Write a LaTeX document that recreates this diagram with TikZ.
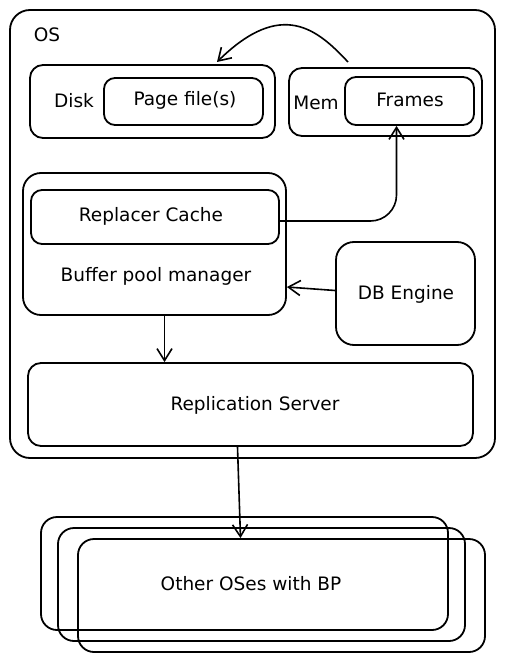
\documentclass[tikz,border=0pt]{standalone}
\usepackage{fontspec}
\setmainfont{DejaVu Sans}
\usetikzlibrary{arrows.meta,calc}
\begin{document}
\begin{tikzpicture}[x=1pt,y=-1pt,
  box/.style={draw, line width=1.8pt, rounded corners=13pt, inner sep=0pt},
  lbl/.style={font=\fontsize{18.5}{21}\selectfont, inner sep=0pt},
  arr/.style={line width=1.6pt, -{Straight Barb[length=12pt,width=15pt,line width=1.6pt]}}]
\useasboundingbox (0,0) rectangle (505,663);
% OS container
\node[box, rounded corners=20pt, minimum width=485pt, minimum height=448pt] (os) at (252.5,234) {};
\node[lbl] (oslbl) at (47,35) {OS};
% Disk
\node[box, minimum width=245pt, minimum height=73pt] (disk) at (152.5,101.5) {};
\node[lbl] (disklbl) at (74,101) {Disk};
\node[box, rounded corners=11pt, minimum width=159pt, minimum height=47pt] (page) at (183.5,101.5) {};
\node[lbl] (pagelbl) at (185,100) {Page file(s)};
% Mem
\node[box, minimum width=193pt, minimum height=68pt] (mem) at (385.5,102) {};
\node[lbl] (memlbl) at (316,103) {Mem};
\node[box, rounded corners=11pt, minimum width=129pt, minimum height=48pt] (frames) at (409.5,101) {};
\node[lbl] (frameslbl) at (410,100) {Frames};
% Buffer pool manager
\node[box, rounded corners=18pt, minimum width=263pt, minimum height=142pt] (bpm) at (154.5,244) {};
\node[lbl] (bpmlbl) at (156,276) {Buffer pool manager};
\node[box, rounded corners=11pt, minimum width=248pt, minimum height=54pt] (repl) at (155,217) {};
\node[lbl] (repllbl) at (151,216) {Replacer Cache};
% DB Engine
\node[box, rounded corners=18pt, minimum width=139pt, minimum height=103pt] (db) at (405.5,293.5) {};
\node[lbl] (dblbl) at (406,294) {DB Engine};
% Replication server
\node[box, minimum width=445pt, minimum height=83pt] (rs) at (250.5,404.5) {};
\node[lbl] (rslbl) at (255,405) {Replication Server};
% Other OSes
\node[box, rounded corners=16pt, minimum width=407pt, minimum height=113pt] (o1) at (244.5,573.5) {};
\node[box, rounded corners=16pt, minimum width=407pt, minimum height=113pt] (o2) at (261.5,584.5) {};
\node[box, rounded corners=16pt, minimum width=407pt, minimum height=113pt] (o3) at (281.5,595.5) {};
\node[lbl] (olbl) at (251,584) {Other OSes with BP};
% connectors
\coordinate (memtop) at (348,62);
\coordinate (disktop) at (217,62);
\draw[arr] (memtop) .. controls (318,30) and (282,-2) .. (disktop);
\draw[arr, rounded corners=26pt] ([yshift=-4pt]repl.east) -| ([xshift=-13pt]frames.south);
\draw[arr] ([yshift=3pt]db.west) -- ([yshift=-43pt]bpm.east);
\draw[arr] ([xshift=10pt]bpm.south) -- ([xshift=10pt]bpm.south |- rs.north);
\draw[arr] ([xshift=-13pt]rs.south) -- ([xshift=-10pt]rs.south |- o3.north);
\end{tikzpicture}
\end{document}
